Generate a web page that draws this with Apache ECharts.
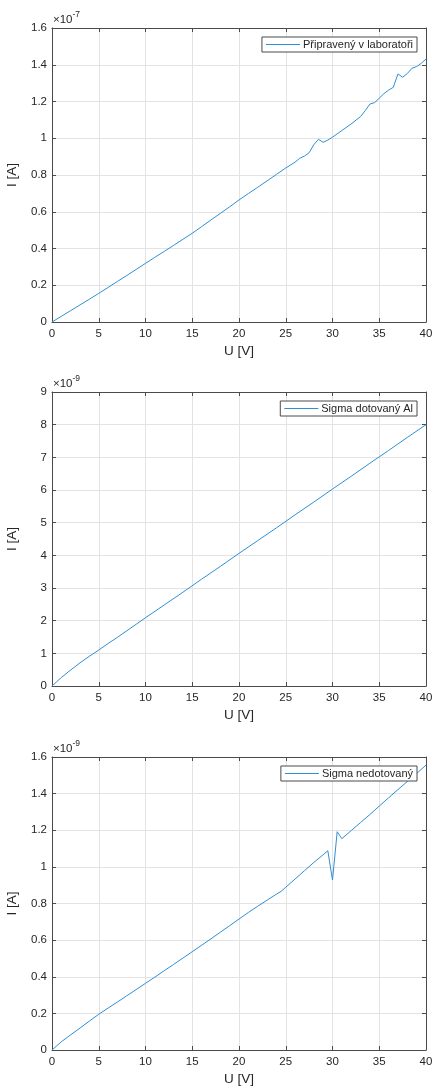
<!DOCTYPE html>
<html>
<head>
<meta charset="utf-8">
<script src="https://cdn.jsdelivr.net/npm/echarts@6/dist/echarts.min.js"></script>
<style>
  html, body { margin: 0; padding: 0; background: #fff; }
  #chart { width: 433px; height: 1088px; }
</style>
</head>
<body>
<div id="chart"></div>
<script>
// Voltage axis (V): [min, max, step]
const xRange = [0, 40, 5];

// Sample prepared in the lab — current in units of 1e-7 A
const voltsLab = [0, 1, 2, 3, 4, 5, 6, 7, 8, 9, 10, 11, 12, 13, 14, 15, 16, 17, 18, 19, 20,
  21, 22, 23, 24, 25, 26, 26.5, 27, 27.5, 28, 28.5, 29, 29.5, 30, 31, 32, 33, 33.5, 34, 34.5,
  35, 35.5, 36, 36.5, 37, 37.5, 38, 38.5, 39, 39.5, 40];
const currentLab = [0, 0.031, 0.062, 0.093, 0.124, 0.156, 0.188, 0.221, 0.253, 0.286, 0.319,
  0.352, 0.384, 0.417, 0.450, 0.483, 0.519, 0.555, 0.591, 0.627, 0.664,
  0.699, 0.733, 0.768, 0.803, 0.838, 0.870, 0.891, 0.903, 0.921, 0.965, 0.994, 0.978, 0.990,
  1.006, 1.042, 1.078, 1.118, 1.150, 1.186, 1.194, 1.218, 1.243, 1.262, 1.277, 1.350, 1.332,
  1.352, 1.381, 1.390, 1.408, 1.431];
const yRangeLab = [0, 1.6, 0.2];

// Sigma, Al-doped — current in units of 1e-9 A
const voltsAl = [0, 0.5, 1, 2, 3, 4, 5, 6, 7, 8, 9, 10, 12, 14, 16, 18, 20, 22, 24, 26, 28,
  30, 32, 34, 36, 38, 40];
const currentAl = [0, 0.13, 0.26, 0.49, 0.71, 0.91, 1.10, 1.30, 1.49, 1.69, 1.89, 2.09, 2.48,
  2.87, 3.27, 3.66, 4.06, 4.45, 4.84, 5.24, 5.63, 6.03, 6.42, 6.82, 7.21, 7.61, 8.00];
const yRangeAl = [0, 9, 1];

// Sigma, undoped — current in units of 1e-9 A
const voltsUndoped = [0, 1, 2, 3, 4, 5, 6, 7, 8, 9, 10, 11, 12, 13, 14, 15, 16, 17, 18, 19, 20,
  21, 22, 23, 24, 24.5, 25, 26, 27, 28, 29, 29.5, 30, 30.5, 31, 32, 33, 34, 35, 36, 37, 38, 39, 40];
const currentUndoped = [0, 0.045, 0.083, 0.120, 0.158, 0.195, 0.229, 0.262, 0.296, 0.330, 0.364,
  0.398, 0.433, 0.467, 0.502, 0.537, 0.572, 0.607, 0.643, 0.679, 0.715,
  0.751, 0.785, 0.818, 0.851, 0.866, 0.889, 0.934, 0.979, 1.024, 1.066, 1.088, 0.928, 1.192,
  1.154, 1.198, 1.242, 1.286, 1.332, 1.377, 1.422, 1.466, 1.510, 1.556];
const yRangeUndoped = [0, 1.6, 0.2];

const seriesNames = ['Připravený v laboratoři', 'Sigma dotovaný Al', 'Sigma nedotovaný'];
const exponents = ['-7', '-9', '-9'];
const xLabel = 'U [V]';
const yLabel = 'I [A]';

const FONT = 'Liberation Sans, Arial, Helvetica, sans-serif';
const INK = '#262626';
const BOX = '#4a4a4a';
const GRIDC = '#e3e3e3';
const LINE = '#2f8fd3';

const panels = [
  { top: 28, height: 294, xs: voltsLab, ys: currentLab, yr: yRangeLab },
  { top: 392, height: 294, xs: voltsAl, ys: currentAl, yr: yRangeAl },
  { top: 757, height: 293, xs: voltsUndoped, ys: currentUndoped, yr: yRangeUndoped }
];

const grid = [], xAxis = [], yAxis = [], series = [], legend = [], graphic = [];

panels.forEach((p, i) => {
  grid.push({ left: 52, right: 7, top: p.top, height: p.height,
    containLabel: false, outerBoundsMode: 'none' });

  const tickStyle = { show: true, inside: true, length: 4, lineStyle: { color: BOX, width: 1 } };
  // bottom axis with labels and grid lines
  xAxis.push({
    type: 'value', gridIndex: i, min: xRange[0], max: xRange[1], interval: xRange[2],
    position: 'bottom',
    name: xLabel, nameLocation: 'middle', nameGap: 22,
    nameTextStyle: { fontFamily: FONT, fontSize: 13.5, color: INK },
    axisLine: { show: true, onZero: false, lineStyle: { color: BOX, width: 1 } },
    axisTick: tickStyle,
    axisLabel: { fontFamily: FONT, fontSize: 11.5, color: INK, margin: 6 },
    splitLine: { show: true, lineStyle: { color: GRIDC, width: 1 } }
  });
  // top edge of the box
  xAxis.push({
    type: 'value', gridIndex: i, min: xRange[0], max: xRange[1], interval: xRange[2],
    position: 'top',
    axisLine: { show: true, onZero: false, lineStyle: { color: BOX, width: 1 } },
    axisTick: tickStyle, axisLabel: { show: false }, splitLine: { show: false }
  });
  // left axis with labels and grid lines
  yAxis.push({
    type: 'value', gridIndex: i, min: p.yr[0], max: p.yr[1], interval: p.yr[2],
    position: 'left',
    name: yLabel, nameLocation: 'middle', nameGap: 33, nameRotate: 90,
    nameTextStyle: { fontFamily: FONT, fontSize: 13.5, color: INK },
    axisLine: { show: true, onZero: false, lineStyle: { color: BOX, width: 1 } },
    axisTick: tickStyle,
    axisLabel: { fontFamily: FONT, fontSize: 11.5, color: INK, margin: 5 },
    splitLine: { show: true, lineStyle: { color: GRIDC, width: 1 } }
  });
  // right edge of the box
  yAxis.push({
    type: 'value', gridIndex: i, min: p.yr[0], max: p.yr[1], interval: p.yr[2],
    position: 'right',
    axisLine: { show: true, onZero: false, lineStyle: { color: BOX, width: 1 } },
    axisTick: tickStyle, axisLabel: { show: false }, splitLine: { show: false }
  });

  series.push({
    name: seriesNames[i], type: 'line',
    xAxisIndex: 2 * i, yAxisIndex: 2 * i,
    data: p.xs.map((v, k) => [v, p.ys[k]]),
    symbol: 'none', smooth: false, animation: false,
    lineStyle: { color: LINE, width: 1 }, itemStyle: { color: LINE }
  });

  legend.push({
    data: [seriesNames[i]], right: 16, top: p.top + 9,
    orient: 'horizontal', icon: 'rect', itemWidth: 34, itemHeight: 1, itemGap: 4,
    padding: [2, 4, 2, 4],
    backgroundColor: '#fff', borderColor: BOX, borderWidth: 1, borderRadius: 0,
    itemStyle: { color: LINE, borderWidth: 0 },
    textStyle: { fontFamily: FONT, fontSize: 11, color: INK, padding: [0, 0, 0, -2] },
    selectedMode: false
  });

  // axis multiplier above the top-left corner
  graphic.push({
    type: 'text', left: 53, top: p.top - 18,
    style: {
      text: '{a|×10}{b|' + exponents[i] + '}',
      rich: {
        a: { fontFamily: FONT, fontSize: 11.5, fill: INK, verticalAlign: 'bottom', lineHeight: 15 },
        b: { fontFamily: FONT, fontSize: 8.5, fill: INK, verticalAlign: 'top', padding: [0, 0, 7, 0] }
      }
    }
  });
});

const chart = echarts.init(document.getElementById('chart'), null, { renderer: 'canvas' });
chart.setOption({
  animation: false,
  backgroundColor: '#fff',
  grid, xAxis, yAxis, series, legend, graphic
});
</script>
</body>
</html>
